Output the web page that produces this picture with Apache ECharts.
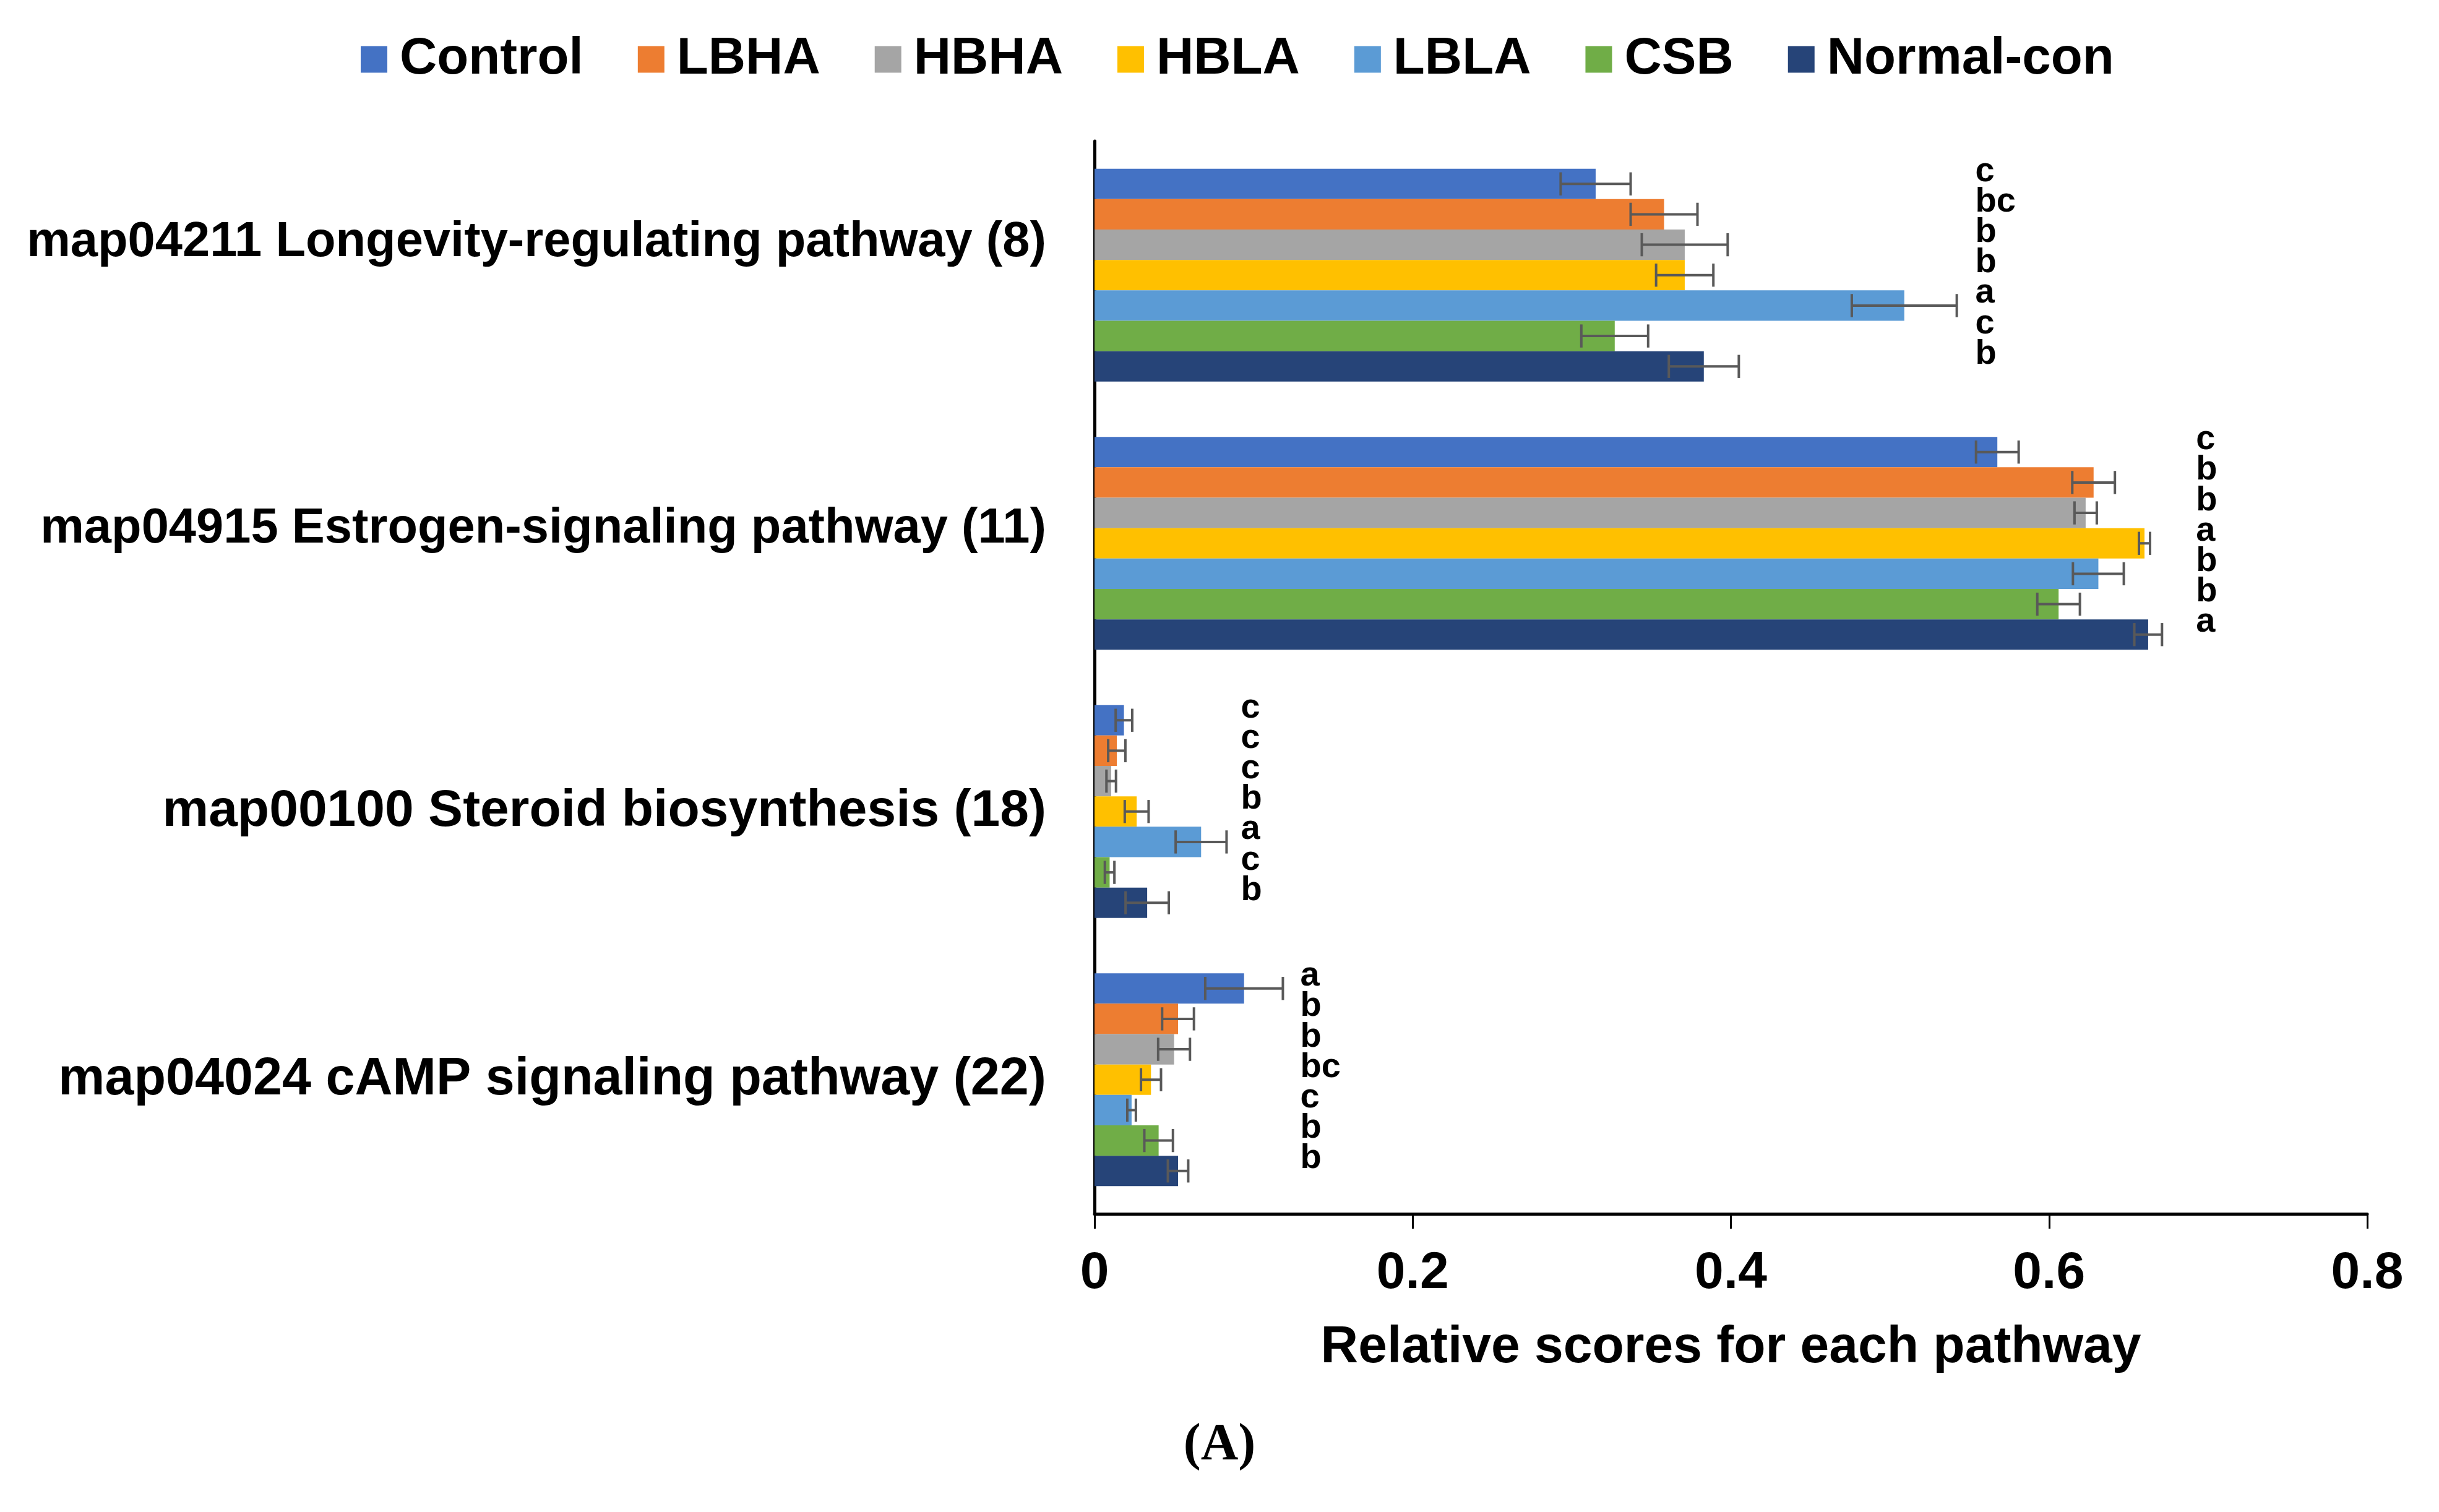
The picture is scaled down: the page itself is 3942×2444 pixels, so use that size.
<!DOCTYPE html>
<html>
<head>
<meta charset="utf-8">
<script src="https://cdn.jsdelivr.net/npm/echarts@6/dist/echarts.min.js"></script>
<style>
html,body{margin:0;padding:0;background:#fff;}
#chart{width:3942px;height:2444px;}
</style>
</head>
<body>
<div id="chart"></div>
<script>
// ---------------- data ----------------
const categories = [
  'map04211 Longevity-regulating pathway (8)',
  'map04915 Estrogen-signaling pathway (11)',
  'map00100 Steroid biosynthesis (18)',
  'map04024 cAMP signaling pathway (22)'
];
const seriesNames = ['Control', 'LBHA', 'HBHA', 'HBLA', 'LBLA', 'CSB', 'Normal-con'];
const xTicks = [0, 0.2, 0.4, 0.6, 0.8];

const controlMean   = [0.315, 0.5675, 0.0185, 0.094];
const lbhaMean      = [0.358, 0.628, 0.014, 0.0525];
const hbhaMean      = [0.371, 0.623, 0.0105, 0.050];
const hblaMean      = [0.371, 0.660, 0.0265, 0.0355];
const lblaMean      = [0.509, 0.631, 0.067, 0.0233];
const csbMean       = [0.327, 0.606, 0.0095, 0.0403];
const normalConMean = [0.383, 0.6623, 0.0331, 0.0525];

const controlErr   = [0.022, 0.0134, 0.0052, 0.0244];
const lbhaErr      = [0.021, 0.0134, 0.0054, 0.010];
const hbhaErr      = [0.027, 0.007, 0.003, 0.010];
const hblaErr      = [0.018, 0.0035, 0.0075, 0.0063];
const lblaErr      = [0.033, 0.016, 0.016, 0.0027];
const csbErr       = [0.021, 0.0134, 0.003, 0.009];
const normalConErr = [0.022, 0.0087, 0.0136, 0.0064];

const controlSig   = ['c', 'c', 'c', 'a'];
const lbhaSig      = ['bc', 'b', 'c', 'b'];
const hbhaSig      = ['b', 'b', 'c', 'b'];
const hblaSig      = ['b', 'a', 'b', 'bc'];
const lblaSig      = ['a', 'b', 'a', 'c'];
const csbSig       = ['c', 'b', 'c', 'b'];
const normalConSig = ['b', 'a', 'b', 'b'];

const means = [controlMean, lbhaMean, hbhaMean, hblaMean, lblaMean, csbMean, normalConMean];
const errs  = [controlErr, lbhaErr, hbhaErr, hblaErr, lblaErr, csbErr, normalConErr];
const sigs  = [controlSig, lbhaSig, hbhaSig, hblaSig, lblaSig, csbSig, normalConSig];

// ---------------- styles ----------------
const colors = ['#4472C4', '#ED7D31', '#A5A5A5', '#FFC000', '#5B9BD5', '#70AD47', '#264478'];
const FONT = '"Liberation Sans", Arial, sans-serif';
const BAR_CAT_GAP = 0.206;
const letterGapPx = [30, 55, 23, 28];
const labelStyles = [
  {fontSize: 79.5, padBottom: 106},
  {fontSize: 79.5, padBottom: 46},
  {fontSize: 84, padBottom: 0},
  {fontSize: 84.5, padBottom: 0}
];

// ---------------- build ----------------
const N = seriesNames.length;
const errData = [];
const sigData = [];
categories.forEach(function (cat, c) {
  let maxEnd = 0;
  for (let s = 0; s < N; s++) maxEnd = Math.max(maxEnd, means[s][c] + errs[s][c]);
  for (let s = 0; s < N; s++) {
    errData.push([means[s][c], c, s, errs[s][c]]);
    sigData.push([maxEnd, c, s]);
  }
});

function barCenterY(api, c, s) {
  const band = api.size([0, 1])[1];
  const groupW = band * (1 - BAR_CAT_GAP);
  const bw = groupW / N;
  return {y: api.coord([0, c])[1] - groupW / 2 + (s + 0.5) * bw, bw: bw};
}

const barSeries = seriesNames.map(function (name, s) {
  return {
    name: name,
    type: 'bar',
    data: means[s],
    barGap: '0%',
    barCategoryGap: (BAR_CAT_GAP * 100) + '%',
    itemStyle: {color: colors[s]},
    z: 2
  };
});

const rich = {};
labelStyles.forEach(function (st, i) {
  rich['l' + i] = {
    fontFamily: FONT, fontWeight: 'bold', fontSize: st.fontSize, color: '#000',
    lineHeight: st.fontSize, padding: [0, 0, st.padBottom, 0]
  };
});

const option = {
  backgroundColor: '#fff',
  animation: false,
  color: colors,
  legend: {
    data: seriesNames,
    left: 578,
    top: 49,
    icon: 'rect',
    itemWidth: 43,
    itemHeight: 43,
    itemGap: 88,
    formatter: '{t|{name}}',
    textStyle: {
      color: '#000',
      rich: {t: {fontFamily: FONT, fontWeight: 'bold', fontSize: 83.5, lineHeight: 84, color: '#000', padding: [0, 0, 0, 15]}}
    }
  },
  grid: {left: 1769, right: 116, top: 228, bottom: 482, containLabel: false},
  xAxis: {
    type: 'value',
    min: xTicks[0],
    max: xTicks[xTicks.length - 1],
    interval: xTicks[1] - xTicks[0],
    axisLine: {show: true, lineStyle: {color: '#000', width: 5}},
    axisTick: {show: true, length: 24, lineStyle: {color: '#000', width: 3}},
    splitLine: {show: false},
    axisLabel: {
      margin: 55, color: '#000', fontFamily: FONT, fontWeight: 'bold', fontSize: 84, lineHeight: 84,
      formatter: function (v) { return v === 0 ? '0' : String(+v.toFixed(1)); }
    },
    name: 'Relative scores for each pathway',
    nameLocation: 'middle',
    nameGap: 175,
    nameTextStyle: {color: '#000', fontFamily: FONT, fontWeight: 'bold', fontSize: 84, lineHeight: 84}
  },
  yAxis: {
    type: 'category',
    inverse: true,
    data: categories,
    axisLine: {show: true, lineStyle: {color: '#000', width: 5}},
    axisTick: {show: false},
    splitLine: {show: false},
    axisLabel: {
      margin: 78,
      formatter: function (v, i) { return '{l' + i + '|' + v + '}'; },
      rich: rich
    }
  },
  series: barSeries.concat([
    {
      name: 'err',
      type: 'custom',
      silent: true,
      z: 5,
      clip: false,
      encode: {x: 0, y: 1},
      data: errData,
      renderItem: function (params, api) {
        const m = api.value(0), c = api.value(1), s = api.value(2), e = api.value(3);
        const p = barCenterY(api, c, s);
        const x1 = api.coord([m - e, c])[0];
        const x2 = api.coord([m + e, c])[0];
        const cap = p.bw * 0.38;
        const st = {stroke: '#595959', lineWidth: 4};
        return {
          type: 'group',
          children: [
            {type: 'line', shape: {x1: x1, y1: p.y, x2: x2, y2: p.y}, style: st},
            {type: 'line', shape: {x1: x1, y1: p.y - cap, x2: x1, y2: p.y + cap}, style: st},
            {type: 'line', shape: {x1: x2, y1: p.y - cap, x2: x2, y2: p.y + cap}, style: st}
          ]
        };
      }
    },
    {
      name: 'sig',
      type: 'custom',
      silent: true,
      z: 6,
      clip: false,
      encode: {x: 0, y: 1},
      data: sigData,
      renderItem: function (params, api) {
        const xm = api.value(0), c = api.value(1), s = api.value(2);
        const p = barCenterY(api, c, s);
        const x = api.coord([xm, c])[0] + letterGapPx[c];
        return {
          type: 'text',
          x: x,
          y: p.y - 20,
          style: {
            text: sigs[s][c],
            fill: '#000',
            font: 'bold 56px ' + FONT,
            align: 'left',
            verticalAlign: 'middle'
          }
        };
      }
    }
  ]),
  graphic: [
    {
      type: 'text',
      x: 1971,
      y: 2337,
      style: {
        text: '(A)',
        fill: '#000',
        font: 'bold 84px "Liberation Serif", "Times New Roman", serif',
        align: 'center',
        verticalAlign: 'middle'
      }
    }
  ]
};

const chart = echarts.init(document.getElementById('chart'), null, {renderer: 'canvas'});
chart.setOption(option);
</script>
</body>
</html>
